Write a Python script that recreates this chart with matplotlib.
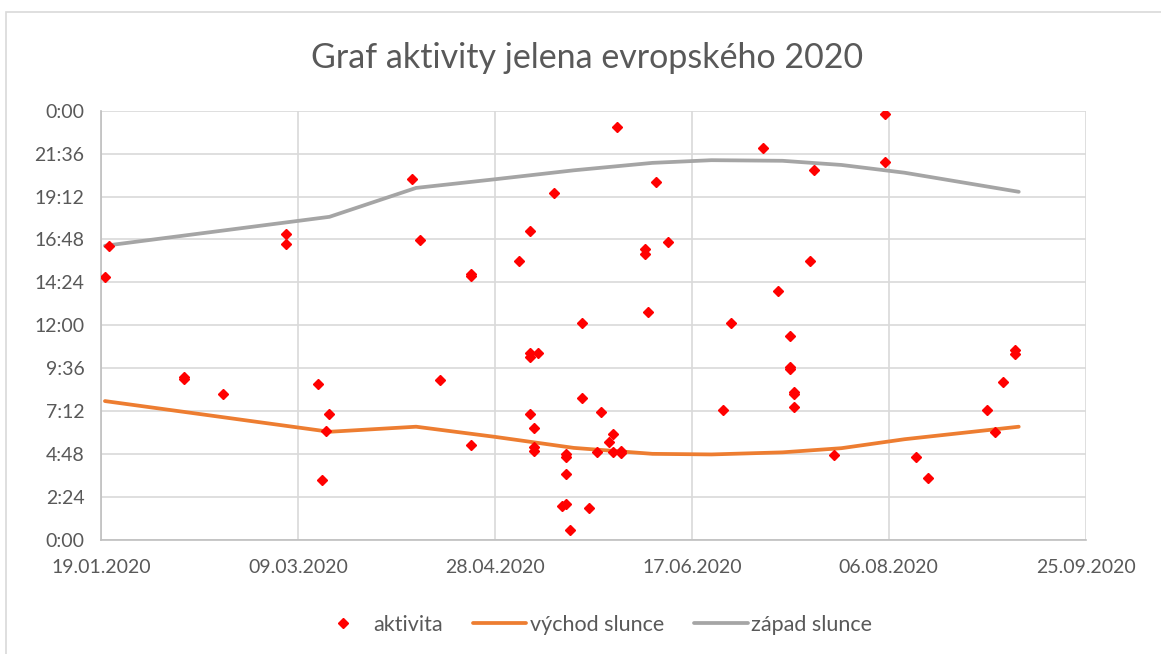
import matplotlib
matplotlib.use("Agg")
import matplotlib.pyplot as plt
import matplotlib.dates as mdates
from matplotlib.patches import Rectangle
import numpy as np
import datetime as dt

# pozorovani aktivity (datum, cas)
akt_datum = ["2020-01-21", "2020-01-20", "2020-03-06", "2020-03-06", "2020-04-07",
             "2020-04-09", "2020-04-22", "2020-04-22", "2020-02-09", "2020-02-09",
             "2020-02-19", "2020-03-14", "2020-03-17", "2020-03-16", "2020-03-15",
             "2020-04-14", "2020-04-22",
             "2020-05-29", "2020-06-08", "2020-05-13", "2020-05-07", "2020-06-11",
             "2020-06-05", "2020-06-05", "2020-05-04", "2020-06-06", "2020-05-20",
             "2020-06-27", "2020-05-07", "2020-05-07", "2020-05-09", "2020-05-20",
             "2020-05-07", "2020-05-25", "2020-06-25", "2020-05-08", "2020-05-28",
             "2020-05-27", "2020-05-08", "2020-05-08", "2020-05-16", "2020-05-16",
             "2020-05-24", "2020-05-28", "2020-05-30", "2020-05-30", "2020-05-16",
             "2020-05-15", "2020-05-16", "2020-05-22", "2020-05-17",
             "2020-08-05", "2020-07-05", "2020-08-05", "2020-07-18", "2020-07-17",
             "2020-07-09", "2020-07-12", "2020-07-12", "2020-07-12", "2020-07-13",
             "2020-07-13", "2020-07-13", "2020-07-23", "2020-08-13", "2020-08-16",
             "2020-08-31", "2020-09-02", "2020-09-04", "2020-09-07", "2020-09-07"]
akt_cas = ["16:27", "14:43", "17:07", "16:32", "20:12",
           "16:46", "14:45", "14:52", "9:00", "9:06",
           "8:11", "8:44", "7:02", "6:05", "3:22",
           "8:58", "5:19",
           "23:04", "20:01", "19:23", "17:16", "16:41",
           "16:16", "15:59", "15:37", "12:44", "12:09",
           "12:07", "10:26", "10:15", "10:28", "7:57",
           "7:02", "7:08", "7:15", "6:17", "5:56",
           "5:28", "5:13", "4:59", "4:49", "4:40",
           "4:56", "4:54", "4:59", "4:51", "3:41",
           "1:55", "2:01", "1:46", "0:35",
           "23:49", "21:55", "21:08", "20:41", "15:35",
           "13:56", "11:25", "9:35", "9:40", "8:11",
           "8:17", "7:27", "4:44", "4:40", "3:27",
           "7:16", "6:03", "8:51", "10:37", "10:24"]

# vychod a zapad slunce
slunce_datum = ["2020-01-20", "2020-03-17", "2020-04-08", "2020-04-28", "2020-05-18",
                "2020-06-07", "2020-06-22", "2020-07-10", "2020-07-25", "2020-08-10",
                "2020-09-08"]
vychod = ["7:46", "6:03", "6:20", "5:46", "5:09", "4:49", "4:47", "4:54", "5:08",
          "5:38", "6:20"]
zapad = ["16:27", "18:04", "19:41", "20:10", "20:40", "21:05", "21:14", "21:12",
         "20:58", "20:32", "19:28"]


def den(s):
    return mdates.date2num(dt.datetime.strptime(s, "%Y-%m-%d"))


def podil(s):
    h, m = s.split(":")
    return (int(h) * 60 + int(m)) / 1440.0


def fmt_cas(v, pos=None):
    m = int(round(v * 1440)) % 1440
    return "%d:%02d" % (m // 60, m % 60)


plt.rcParams['font.family'] = ['Lato', 'DejaVu Sans']
sedy = '#595959'

fig = plt.figure(figsize=(11.61, 6.54), dpi=100)
fig.patches.append(Rectangle((5.5 / 1161, -0.1), 1.2, 1 - 12 / 654 + 0.1,
                             transform=fig.transFigure, fill=False,
                             edgecolor='#D9D9D9', lw=1.2))
ax = fig.add_axes([101 / 1161, 1 - 540 / 654, 984.7 / 1161, 429.3 / 654])

x_akt = [den(d) for d in akt_datum]
y_akt = [podil(c) for c in akt_cas]
x_sl = [den(d) for d in slunce_datum]

ax.plot(x_sl, [podil(c) for c in vychod], color='#ED7D31', lw=2.7, label='východ slunce',
        solid_capstyle='round', zorder=3)
ax.plot(x_sl, [podil(c) for c in zapad], color='#A5A5A5', lw=2.7, label='západ slunce',
        solid_capstyle='round', zorder=3)
ax.plot(x_akt, y_akt, 'D', color='#FF0000', ms=5.5, ls='none', label='aktivita', zorder=4)

start = den("2020-01-19")
ax.set_xlim(start, start + 250)
ax.set_ylim(0, 1)
ax.set_xticks(np.arange(start, start + 251, 50))
ax.xaxis.set_major_formatter(mdates.DateFormatter("%d.%m.%Y"))
ax.set_yticks(np.arange(0, 1.0001, 0.1))
ax.yaxis.set_major_formatter(plt.FuncFormatter(fmt_cas))

ax.grid(True, color='#D9D9D9', lw=1.2)
ax.set_axisbelow(True)
for s in ['top', 'right']:
    ax.spines[s].set_visible(False)
for s in ['left', 'bottom']:
    ax.spines[s].set_color('#BFBFBF')
    ax.spines[s].set_linewidth(1.2)
ax.tick_params(length=0, labelsize=14, colors=sedy)
ax.tick_params(axis='x', pad=14)
ax.tick_params(axis='y', pad=12)

fig.text(587.5 / 1161, 1 - 58 / 654, "Graf aktivity jelena evropského 2020",
         ha='center', va='center', fontsize=24.5, color=sedy)

h, l = ax.get_legend_handles_labels()
order = [2, 0, 1]
fig.legend([h[i] for i in order], [l[i] for i in order], loc='center',
           bbox_to_anchor=(594 / 1161, 1 - 625 / 654), ncol=3, frameon=False,
           fontsize=15.5, labelcolor=sedy, handlelength=2.5, columnspacing=1.4,
           handletextpad=0.15)

fig.savefig("out.png", dpi=100)
